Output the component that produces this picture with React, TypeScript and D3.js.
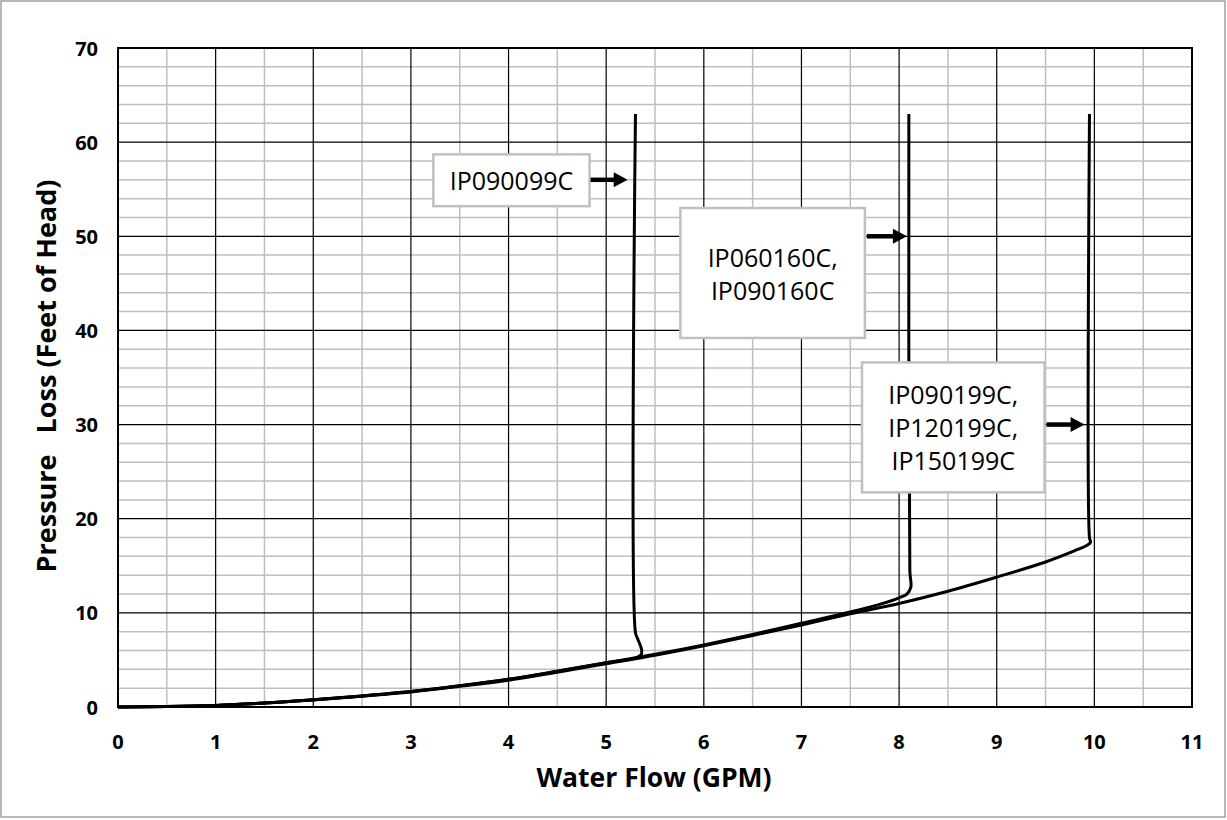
import React from "react";
import * as d3 from "d3";

const xTicks = [0, 1, 2, 3, 4, 5, 6, 7, 8, 9, 10, 11];
const yTicks = [0, 10, 20, 30, 40, 50, 60, 70];

// IP090199C / IP120199C / IP150199C curve
const flow10 = [0, 0.5, 1, 1.5, 2, 2.5, 3, 3.5, 4, 4.5, 5, 5.5, 6, 6.5, 7, 7.5, 8, 8.5, 9, 9.5, 9.8, 9.93, 9.96, 9.95, 9.95];
const head10 = [0, 0.05, 0.17, 0.42, 0.75, 1.15, 1.6, 2.2, 2.85, 3.7, 4.6, 5.5, 6.5, 7.6, 8.7, 9.9, 11.0, 12.3, 13.8, 15.4, 16.6, 17.2, 17.5, 18.0, 63];

// IP060160C / IP090160C curve
const flow8 = [0, 0.5, 1, 1.5, 2, 2.5, 3, 3.5, 4, 4.5, 5, 5.5, 6, 6.5, 7, 7.5, 7.8, 8.0, 8.08, 8.12, 8.11, 8.1];
const head8 = [0, 0.05, 0.17, 0.42, 0.77, 1.18, 1.65, 2.25, 2.95, 3.8, 4.7, 5.6, 6.6, 7.7, 8.9, 10.1, 10.9, 11.6, 12.0, 12.7, 14.5, 63];

// IP090099C curve
const flow5 = [0, 0.5, 1, 1.5, 2, 2.5, 3, 3.5, 4, 4.5, 5, 5.2, 5.3, 5.36, 5.36, 5.32, 5.3, 5.3];
const head5 = [0, 0.05, 0.17, 0.42, 0.77, 1.18, 1.65, 2.25, 2.95, 3.8, 4.7, 5.0, 5.2, 5.6, 6.2, 7.3, 7.9, 63];

const labelLines = [["IP090099C"], ["IP060160C,", "IP090160C"], ["IP090199C,", "IP120199C,", "IP150199C"]];
const boxX0 = [3.23, 5.76, 7.62];
const boxX1 = [4.83, 7.65, 9.49];
const boxYTop = [58.7, 53.0, 36.6];
const boxYBot = [53.2, 39.2, 22.8];
const arrowY = [56, 50, 30];
const arrowX0 = [4.84, 7.67, 9.51];
const arrowX1 = [5.22, 8.08, 9.9];

const W = 1227;
const H = 820;
const left = 118;
const right = 1192;
const top = 48;
const bottom = 707;

export default function App() {
  const x = d3.scaleLinear().domain([0, 11]).range([left, right]);
  const y = d3.scaleLinear().domain([0, 70]).range([bottom, top]);
  const minorX = d3.range(0.5, 11, 1);
  const minorY = d3.range(0, 70, 2).filter((v) => v % 10 !== 0);

  const line = d3
    .line<[number, number]>()
    .x((d) => x(d[0]))
    .y((d) => y(d[1]))
    .curve(d3.curveCatmullRom.alpha(0.5));

  const series = [
    flow10.map((f, i) => [f, head10[i]] as [number, number]),
    flow8.map((f, i) => [f, head8[i]] as [number, number]),
    flow5.map((f, i) => [f, head5[i]] as [number, number]),
  ];

  const labelFont = "'Open Sans', 'Noto Sans', sans-serif";
  const lineH = 33;

  return (
    <div style={{ position: "absolute", left: 0, top: 0 }}>
      <svg width={W} height={H} style={{ display: "block", background: "#fff" }}>
        <rect x={1} y={1} width={W - 3} height={H - 4} fill="#fff" stroke="#a0a0a0" strokeWidth={1.5} />
        {minorX.map((v) => (
          <line key={"mx" + v} x1={x(v)} x2={x(v)} y1={top} y2={bottom} stroke="#bfbfbf" strokeWidth={1.5} />
        ))}
        {minorY.map((v) => (
          <line key={"my" + v} x1={left} x2={right} y1={y(v)} y2={y(v)} stroke="#bfbfbf" strokeWidth={1.5} />
        ))}
        {xTicks.map((v) => (
          <line key={"gx" + v} x1={x(v)} x2={x(v)} y1={top} y2={bottom} stroke="#000" strokeWidth={1.2} />
        ))}
        {yTicks.map((v) => (
          <line key={"gy" + v} x1={left} x2={right} y1={y(v)} y2={y(v)} stroke="#000" strokeWidth={1.2} />
        ))}
        <rect x={left} y={top} width={right - left} height={bottom - top} fill="none" stroke="#000" strokeWidth={2} />

        {series.map((s, i) => (
          <path key={"s" + i} d={line(s) || ""} fill="none" stroke="#000" strokeWidth={3} strokeLinejoin="round" />
        ))}

        {labelLines.map((lines, i) => {
          const bx0 = x(boxX0[i]);
          const bx1 = x(boxX1[i]);
          const by0 = y(boxYTop[i]);
          const by1 = y(boxYBot[i]);
          const cx = (bx0 + bx1) / 2;
          const cy = (by0 + by1) / 2;
          const ay = y(arrowY[i]);
          const ax0 = x(arrowX0[i]);
          const ax1 = x(arrowX1[i]);
          return (
            <g key={"lab" + i}>
              <rect x={bx0} y={by0} width={bx1 - bx0} height={by1 - by0} fill="#fff" stroke="#c0c0c0" strokeWidth={2.5} />
              {lines.map((t, j) => (
                <text
                  key={j}
                  x={cx}
                  y={cy + (j - (lines.length - 1) / 2) * lineH}
                  textAnchor="middle"
                  dominantBaseline="central"
                  fontFamily={labelFont}
                  fontSize={25}
                  fill="#000"
                >
                  {t}
                </text>
              ))}
              <line x1={ax0} x2={ax1 - 12} y1={ay} y2={ay} stroke="#000" strokeWidth={4.5} />
              <path d={`M${ax1 - 14},${ay - 7.5} L${ax1},${ay} L${ax1 - 14},${ay + 7.5} Z`} fill="#000" />
            </g>
          );
        })}

        {yTicks.map((v) => (
          <text
            key={"yl" + v}
            x={left - 20}
            y={y(v)}
            textAnchor="end"
            dominantBaseline="central"
            fontFamily={labelFont}
            fontWeight="bold"
            fontSize={20}
            fill="#000"
          >
            {v}
          </text>
        ))}
        {xTicks.map((v) => (
          <text
            key={"xl" + v}
            x={x(v)}
            y={bottom + 34}
            textAnchor="middle"
            dominantBaseline="central"
            fontFamily={labelFont}
            fontWeight="bold"
            fontSize={20}
            fill="#000"
          >
            {v}
          </text>
        ))}
        <text
          x={654}
          y={777}
          textAnchor="middle"
          dominantBaseline="central"
          fontFamily={labelFont}
          fontWeight="bold"
          fontSize={26.5}
          fill="#000"
        >
          Water Flow (GPM)
        </text>
        <text
          transform={`translate(45, 376) rotate(-90)`}
          textAnchor="middle"
          dominantBaseline="central"
          fontFamily={labelFont}
          fontWeight="bold"
          fontSize={27}
          fill="#000"
          style={{ whiteSpace: "pre" }}
        >
          {"Pressure   Loss (Feet of Head)"}
        </text>
      </svg>
    </div>
  );
}
